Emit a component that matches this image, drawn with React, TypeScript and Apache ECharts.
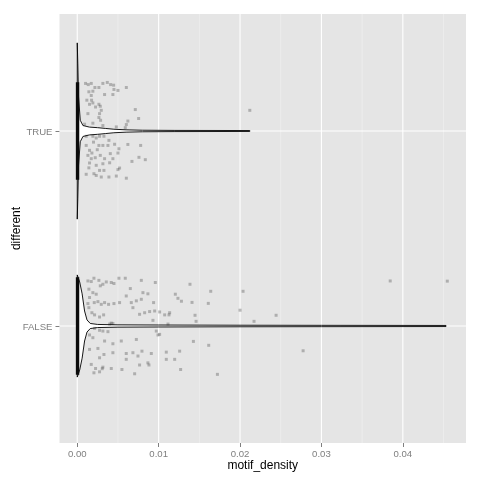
import React, { useEffect, useRef } from 'react';
import * as echarts from 'echarts';

// ---- categories / axes ----
const categories = ['FALSE', 'TRUE'];
const categoryPositions = [1, 2];
const xTickValues = [0, 0.01, 0.02, 0.03, 0.04];
const xMinorValues = [0.005, 0.015, 0.025, 0.035, 0.045];
const jitterHeight = 0.25;

// ---- violin outlines (density half-widths, in category units) ----
const violinTrueX = [0, 0.00007, 0.00016, 0.00037, 0.0007, 0.0015, 0.0025, 0.0035, 0.0045, 0.006, 0.008, 0.012, 0.0212];
const violinTrueHalfWidth = [0.452, 0.344, 0.175, 0.055, 0.028, 0.02, 0.017, 0.013, 0.009, 0.006, 0.004, 0.003, 0.0024];
const violinFalseX = [0, 0.0003, 0.0006, 0.0009, 0.0012, 0.0016, 0.0025, 0.005, 0.01, 0.02, 0.03, 0.0453];
const violinFalseHalfWidth = [0.262, 0.226, 0.165, 0.077, 0.031, 0.013, 0.008, 0.006, 0.005, 0.004, 0.0034, 0.0028];

// ---- jittered non-zero points: [motif_density, vertical jitter] ----
const truePoints = [
  [0.00102, 0.244], [0.00135, 0.238], [0.00172, 0.244], [0.00315, 0.244], [0.00369, 0.249], [0.0041, 0.238],
  [0.00447, 0.235], [0.00603, 0.223], [0.00217, 0.223], [0.00266, 0.223], [0.00143, 0.201], [0.00192, 0.204],
  [0.00451, 0.213], [0.005, 0.208], [0.00336, 0.187], [0.00438, 0.187], [0.00118, 0.158], [0.00172, 0.182],
  [0.00176, 0.158], [0.00192, 0.144], [0.00151, 0.137], [0.00266, 0.137], [0.00283, 0.127], [0.00225, 0.123],
  [0.00295, 0.106], [0.00274, 0.089], [0.00131, 0.089], [0.00266, 0.069], [0.00287, 0.055], [0.00713, 0.11],
  [0.00754, 0.064], [0.00622, 0.051], [0.00603, 0.033], [0.0009, 0.035], [0.00192, 0.04], [0.00315, 0.028],
  [0.0048, 0.021], [0.0059, 0.017],
  [0.0011, -0.027], [0.00192, -0.027], [0.00233, -0.036], [0.00274, -0.027], [0.00328, -0.027], [0.00389, -0.048],
  [0.0011, -0.074], [0.002, -0.057], [0.00266, -0.074], [0.00315, -0.074], [0.00377, -0.074], [0.00459, -0.068],
  [0.00512, -0.091], [0.00622, -0.069], [0.00779, -0.074], [0.00151, -0.099], [0.0018, -0.113], [0.00246, -0.096],
  [0.00283, -0.125], [0.00406, -0.116], [0.005, -0.113], [0.00131, -0.125], [0.00172, -0.142], [0.00221, -0.137],
  [0.00336, -0.142], [0.00438, -0.142], [0.00758, -0.135], [0.00836, -0.147], [0.00672, -0.156], [0.00151, -0.164],
  [0.00233, -0.176], [0.00315, -0.168], [0.00398, -0.163], [0.0052, -0.19], [0.005, -0.198], [0.00143, -0.189],
  [0.00274, -0.202], [0.00328, -0.202], [0.00205, -0.219], [0.00233, -0.228], [0.00295, -0.236], [0.00389, -0.236],
  [0.0048, -0.231], [0.00603, -0.242], [0.0011, -0.222], [0.0212, 0.106],
];

const falsePoints = [
  [0.00131, 0.231], [0.00172, 0.228], [0.00205, 0.245], [0.00266, 0.234], [0.00283, 0.206], [0.00315, 0.214],
  [0.00357, 0.226], [0.00418, 0.223], [0.00451, 0.218], [0.00512, 0.245], [0.0059, 0.245], [0.00787, 0.234],
  [0.00959, 0.223], [0.00143, 0.189], [0.00192, 0.171], [0.00233, 0.163], [0.00151, 0.146], [0.00209, 0.12],
  [0.00254, 0.125], [0.00295, 0.111], [0.00336, 0.12], [0.00385, 0.111], [0.00451, 0.115], [0.0052, 0.12],
  [0.00602, 0.154], [0.00652, 0.192], [0.00664, 0.12], [0.00726, 0.129], [0.00787, 0.137], [0.00807, 0.171],
  [0.00868, 0.165], [0.00938, 0.12], [0.00143, 0.094], [0.0018, 0.068], [0.00213, 0.057], [0.00274, 0.046],
  [0.00324, 0.057], [0.00418, 0.015], [0.00438, 0.013], [0.00398, 0.01], [0.00684, 0.094], [0.00766, 0.06],
  [0.00828, 0.068], [0.00889, 0.074], [0.00951, 0.077], [0.01012, 0.072], [0.01074, 0.057], [0.01135, 0.068],
  [0.01205, 0.163], [0.0093, 0.029], [0.01115, 0.01], [0.00131, 0.115],
  [0.00213, -0.012], [0.00274, -0.022], [0.00315, -0.026], [0.00377, -0.029], [0.00151, -0.046], [0.00192, -0.06],
  [0.00336, -0.077], [0.00541, -0.077], [0.00726, -0.069], [0.00151, -0.12], [0.00254, -0.115], [0.00328, -0.146],
  [0.00438, -0.137], [0.00274, -0.163], [0.00602, -0.141], [0.00684, -0.137], [0.00795, -0.129], [0.0091, -0.141],
  [0.01094, -0.134], [0.00438, -0.091], [0.00172, -0.197], [0.00225, -0.218], [0.00315, -0.211], [0.00307, -0.219],
  [0.00205, -0.24], [0.00274, -0.235], [0.00418, -0.218], [0.00549, -0.223], [0.00602, -0.171], [0.00746, -0.154],
  [0.00766, -0.2], [0.00868, -0.189], [0.00881, -0.2], [0.00705, -0.245], [0.01094, -0.171], [0.01197, -0.171],
  [0.01258, -0.129], [0.00992, -0.046], [0.00971, -0.026],
  [0.01127, 0.057], [0.01237, 0.142], [0.0128, 0.127], [0.01385, 0.214], [0.0141, 0.121], [0.01447, 0.055],
  [0.0146, 0.024], [0.0164, 0.178], [0.0161, 0.116], [0.02037, 0.178], [0.02, 0.081], [0.02172, 0.024],
  [0.02443, 0.055], [0.03845, 0.231], [0.04546, 0.23],
  [0.01012, -0.043], [0.01427, -0.079], [0.01615, -0.099], [0.0127, -0.223], [0.01722, -0.248], [0.02775, -0.127],
];

const FONT = "'Liberation Sans', Arial, Helvetica, sans-serif";

export default function App() {
  const ref = useRef<HTMLDivElement>(null);

  useEffect(() => {
    if (!ref.current) return;
    const chart = echarts.init(ref.current, null, { renderer: 'svg' });
    const X_MIN = -0.00218;
    const X_MAX = 0.04776;
    const Y_MIN = 0.4;
    const Y_MAX = 2.6;

    const violins = [
      { pos: categoryPositions[0], xs: violinFalseX, hw: violinFalseHalfWidth },
      { pos: categoryPositions[1], xs: violinTrueX, hw: violinTrueHalfWidth },
    ];

    const labelFor = (v: number) => {
      const i = categoryPositions.indexOf(Math.round(v));
      return i >= 0 ? categories[i] : '';
    };

    const option: any = {
      animation: false,
      grid: {
        left: 59.5,
        right: 14,
        top: 14,
        bottom: 37,
        show: true,
        backgroundColor: '#E5E5E5',
        borderWidth: 0,
        containLabel: false,
        outerBoundsMode: 'none',
      },
      xAxis: {
        type: 'value',
        min: X_MIN,
        max: X_MAX,
        name: 'motif_density',
        nameLocation: 'middle',
        nameGap: 16,
        nameMoveOverlap: false,
        nameTextStyle: { color: '#000', fontSize: 12, fontFamily: FONT },
        axisLine: { show: false, onZero: false },
        axisTick: { show: true, length: 4, lineStyle: { color: '#7F7F7F', width: 1 }, customValues: xTickValues },
        axisLabel: {
          customValues: xTickValues,
          formatter: (v: number) => v.toFixed(2),
          color: '#7F7F7F',
          fontSize: 9.6,
          fontFamily: FONT,
          margin: 5,
        },
        splitLine: { show: false },
      },
      yAxis: {
        type: 'value',
        min: Y_MIN,
        max: Y_MAX,
        name: 'different',
        nameLocation: 'middle',
        nameGap: 38,
        nameMoveOverlap: false,
        nameTextStyle: { color: '#000', fontSize: 12, fontFamily: FONT },
        axisLine: { show: false, onZero: false },
        axisTick: { show: true, length: 4, lineStyle: { color: '#7F7F7F', width: 1 }, customValues: categoryPositions },
        axisLabel: {
          customValues: categoryPositions,
          formatter: (v: number) => labelFor(v),
          color: '#7F7F7F',
          fontSize: 9.6,
          fontFamily: FONT,
          margin: 7,
        },
        splitLine: { show: false },
      },
      series: [
        {
          type: 'custom',
          z: 1,
          silent: true,
          data: [[0, 1]],
          renderItem: (params: any, api: any) => {
            const children: any[] = [];
            xMinorValues.forEach((v) => {
              const a = api.coord([v, Y_MIN]);
              const b = api.coord([v, Y_MAX]);
              children.push({
                type: 'line',
                shape: { x1: a[0], y1: a[1], x2: b[0], y2: b[1] },
                style: { stroke: '#F2F2F2', lineWidth: 0.6 },
              });
            });
            xTickValues.forEach((v) => {
              const a = api.coord([v, Y_MIN]);
              const b = api.coord([v, Y_MAX]);
              children.push({
                type: 'line',
                shape: { x1: a[0], y1: a[1], x2: b[0], y2: b[1] },
                style: { stroke: '#FFFFFF', lineWidth: 1.1 },
              });
            });
            categoryPositions.forEach((p) => {
              const a = api.coord([X_MIN, p]);
              const b = api.coord([X_MAX, p]);
              children.push({
                type: 'line',
                shape: { x1: a[0], y1: a[1], x2: b[0], y2: b[1] },
                style: { stroke: '#FFFFFF', lineWidth: 1.1 },
              });
            });
            return { type: 'group', children };
          },
        },
        {
          type: 'custom',
          z: 2,
          silent: true,
          data: violins.map((v) => [0, v.pos]),
          renderItem: (params: any, api: any) => {
            const v = violins[params.dataIndex];
            const top = v.xs.map((x, i) => api.coord([x, v.pos + v.hw[i]]));
            const bottom = v.xs.map((x, i) => api.coord([x, v.pos - v.hw[i]])).reverse();
            return {
              type: 'polygon',
              shape: { points: top.concat(bottom) },
              style: { fill: '#FFFFFF', stroke: '#000000', lineWidth: 0.9 },
            };
          },
        },
        {
          type: 'scatter',
          z: 3,
          symbol: 'rect',
          symbolSize: 3,
          itemStyle: { color: 'rgba(0,0,0,0.3)' },
          data: truePoints.map((p) => [p[0], categoryPositions[1] + p[1]]),
        },
        {
          type: 'scatter',
          z: 3,
          symbol: 'rect',
          symbolSize: 3,
          itemStyle: { color: 'rgba(0,0,0,0.3)' },
          data: falsePoints.map((p) => [p[0], categoryPositions[0] + p[1]]),
        },
        {
          // dense cluster of zero-valued jittered points
          type: 'custom',
          z: 4,
          silent: true,
          data: categoryPositions.map((p) => [0, p]),
          renderItem: (params: any, api: any) => {
            const p = categoryPositions[params.dataIndex];
            const a = api.coord([0, p + jitterHeight]);
            const b = api.coord([0, p - jitterHeight]);
            return {
              type: 'rect',
              shape: { x: a[0] - 1.4, y: a[1], width: 3.4, height: b[1] - a[1] },
              style: { fill: '#0A0A0A' },
            };
          },
        },
      ],
    };

    chart.setOption(option);
    return () => chart.dispose();
  }, []);

  return <div ref={ref} style={{ position: 'fixed', left: 0, top: 0, width: 480, height: 480 }} />;
}
